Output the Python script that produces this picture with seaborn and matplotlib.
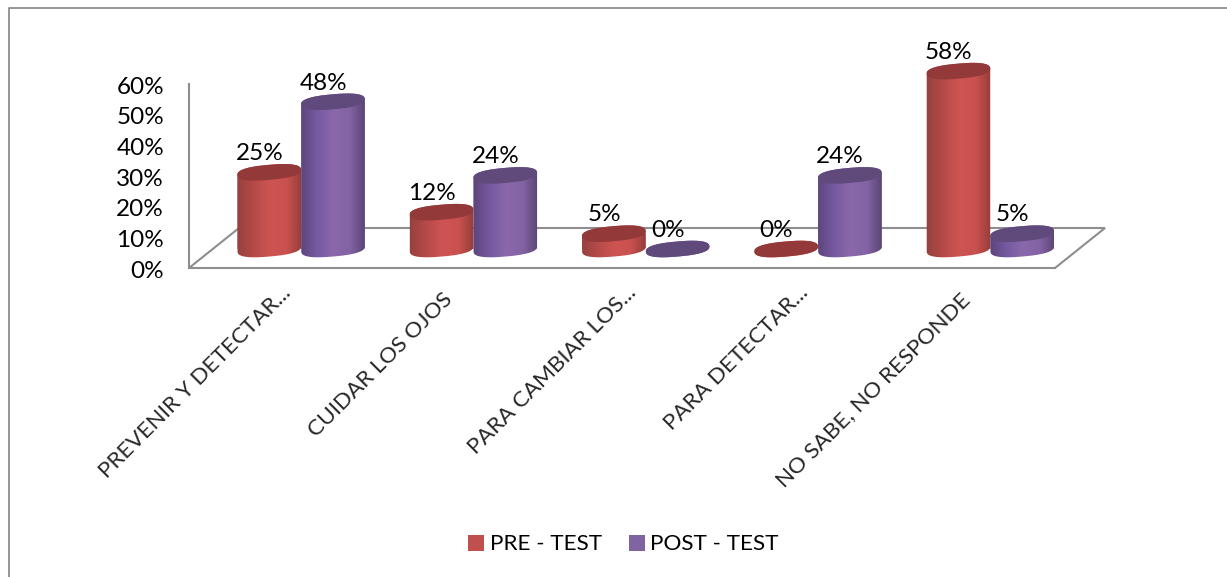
import matplotlib
matplotlib.use("Agg")
import matplotlib.pyplot as plt
import numpy as np
import pandas as pd
import seaborn as sns
from matplotlib.colors import LinearSegmentedColormap
from matplotlib.lines import Line2D
from matplotlib.patches import Patch, PathPatch
from matplotlib.path import Path
from matplotlib.transforms import Affine2D, IdentityTransform

# Survey answers, in percent
categories = ["PREVENIR Y DETECTAR...", "CUIDAR LOS OJOS", "PARA CAMBIAR LOS...",
              "PARA DETECTAR...", "NO SABE, NO RESPONDE"]
series_names = ["PRE - TEST", "POST - TEST"]
pre_test = [25, 12, 5, 0, 58]
post_test = [48, 24, 0, 24, 5]
y_ticks = [0, 10, 20, 30, 40, 50, 60]

WIDTH, HEIGHT = 1227, 577
GREY = "#8e8e8e"
FONT = "Lato"
BASE_COLORS = {"PRE - TEST": "#c0504d", "POST - TEST": "#8064a2"}
TOP_COLORS = {"PRE - TEST": "#93393a", "POST - TEST": "#604a7b"}
SHADES = {
    "PRE - TEST": ["#93403d", "#b34a48", "#cd5452", "#c9514f", "#8f3a38"],
    "POST - TEST": ["#5a4377", "#7558a0", "#8a68ab", "#8463a5", "#55406e"],
}


def box(left, top, right, bottom):
    """Axes rectangle from pixel edges measured from the top-left corner."""
    return [left / WIDTH, 1 - bottom / HEIGHT, (right - left) / WIDTH, (bottom - top) / HEIGHT]


sns.set_theme(style="white")
plt.rcParams["font.family"] = [FONT, "DejaVu Sans"]

fig = plt.figure(figsize=(WIDTH / 100, HEIGHT / 100), dpi=100, facecolor="white")

# Front plane: value axis and the outline of the floor
ax = fig.add_axes(box(189, 84, 1055, 268))
ax.set_xlim(0, 1)
ax.set_ylim(0, 60)
ax.set_xticks([])
ax.set_yticks(y_ticks, [f"{v}%" for v in y_ticks])
ax.tick_params(axis="y", length=0, pad=18, labelsize=17.5, labelcolor="black")
for label in ax.get_yticklabels():
    label.set_transform(label.get_transform() + Affine2D().translate(0, -1))
ax.patch.set_alpha(0)
for side, spine in ax.spines.items():
    spine.set_visible(side in ("left", "bottom"))
    spine.set_color(GREY)
    spine.set_linewidth(1.5)
depth_x, depth_y = 50 / 866, 40 / 184
ax.plot([0, depth_x, 1 + depth_x, 1], [0, depth_y, depth_y, 0], transform=ax.transAxes,
        color=GREY, lw=1.5, clip_on=False, solid_joinstyle="miter")

# Cylinders stand on a plane set back from the front of the floor
ax_bars = fig.add_axes(box(215, 65, 1076.5, 249))
ax_bars.patch.set_alpha(0)
table = pd.DataFrame({
    "category": categories * 2,
    "series": [series_names[0]] * len(categories) + [series_names[1]] * len(categories),
    "value": pre_test + post_test,
})
sns.barplot(data=table, x="category", y="value", hue="series", order=categories,
            hue_order=series_names, palette=BASE_COLORS, width=0.74, gap=0, dodge=True,
            saturation=1, legend=False, ax=ax_bars, linewidth=0)
ax_bars.set_xlim(-0.5, 4.5)
ax_bars.set_ylim(0, 60)
ax_bars.set_xlabel("")
ax_bars.set_ylabel("")
ax_bars.set_yticks([])
ax_bars.set_xticks(range(len(categories)))
ax_bars.set_xticklabels(categories, rotation=45, ha="right", va="top",
                        rotation_mode="anchor", fontsize=16.2)
ax_bars.tick_params(axis="x", length=0, pad=24)
# Shortened labels hang a little higher and further right than the full ones
for label in ax_bars.get_xticklabels():
    dx, dy = (-20, 0) if label.get_text().endswith("...") else (-31, 7)
    label.set_transform(label.get_transform() + Affine2D().translate(dx, -dy))
for spine in ax_bars.spines.values():
    spine.set_visible(False)
fig.canvas.draw()

TILT = np.deg2rad(5.0)
RY = 7.5
ROUNDNESS = 0.8


def ellipse_points(cx, cy, rx, start, stop, n=60):
    """Tilted, slightly squared ellipse arc in display pixels; y grows upwards."""
    t = np.linspace(start, stop, n)
    x = rx * np.sign(np.cos(t)) * np.abs(np.cos(t)) ** ROUNDNESS
    y = RY * np.sign(np.sin(t)) * np.abs(np.sin(t)) ** ROUNDNESS
    return np.column_stack([cx + x * np.cos(TILT) - y * np.sin(TILT),
                            cy + x * np.sin(TILT) + y * np.cos(TILT)])


bars = [b for b in ax_bars.patches if b.get_width() > 0]
n_cat = len(categories)
for order, bar in enumerate(bars):
    name = series_names[order // n_cat]
    x0, y0 = ax_bars.transData.transform((bar.get_x(), bar.get_y()))
    x1, y1 = ax_bars.transData.transform((bar.get_x() + bar.get_width(),
                                          bar.get_y() + bar.get_height()))
    cx, rx = (x0 + x1) / 2, (x1 - x0) / 2
    z = 3 + order // n_cat

    # Side of the cylinder: lower half of the base ellipse joined to the top ellipse
    outline = np.vstack([ellipse_points(cx, y0, rx, np.pi, 2 * np.pi),
                         ellipse_points(cx, y1, rx, 0, np.pi)])
    silhouette = PathPatch(Path(np.vstack([outline, outline[0]])), transform=IdentityTransform(),
                           facecolor="none", edgecolor="none", clip_on=False)
    ax_bars.add_patch(silhouette)
    bar.set_clip_box(fig.bbox)
    bar.set_clip_path(silhouette)
    bar.set_zorder(z)

    shade = LinearSegmentedColormap.from_list(name, SHADES[name])
    ramp = np.linspace(0, 1, 256)[None, :]
    image = ax_bars.imshow(ramp, cmap=shade, aspect="auto", zorder=z, interpolation="bilinear",
                           extent=[bar.get_x() - 0.01, bar.get_x() + bar.get_width() + 0.01, -8, 62])
    image.set_clip_box(fig.bbox)
    image.set_clip_path(silhouette)

    top = PathPatch(Path(ellipse_points(cx, y1, rx, 0, 2 * np.pi, 120)), transform=IdentityTransform(),
                    facecolor=TOP_COLORS[name], edgecolor="none", zorder=z, clip_on=False)
    ax_bars.add_patch(top)

    # Value label sits up and to the left of the cylinder's top
    ax_bars.annotate(f"{bar.get_height():.0f}%",
                     (bar.get_x() + bar.get_width() / 2, bar.get_height()),
                     xytext=(-7, 13.5), textcoords="offset points", ha="center", va="center",
                     fontsize=17.5, color="black", zorder=10, annotation_clip=False)

ax_bars.set_xlim(-0.5, 4.5)
ax_bars.set_ylim(0, 60)

# Chart frame along the left and top edges
fig.add_artist(Line2D([8.5 / WIDTH, 8.5 / WIDTH, 1], [0, 1 - 8 / HEIGHT, 1 - 8 / HEIGHT],
                      color=GREY, lw=1.3))

handles = [Patch(facecolor=BASE_COLORS[s], edgecolor="none") for s in series_names]
fig.legend(handles, series_names, loc="center", bbox_to_anchor=(623.5 / WIDTH, 1 - 544.5 / HEIGHT),
           ncol=2, frameon=False, fontsize=16.2, handlelength=0.7, handleheight=0.7,
           handletextpad=0.25, columnspacing=1.2, labelcolor="black")

fig.savefig("out.png", dpi=100, facecolor="white")
